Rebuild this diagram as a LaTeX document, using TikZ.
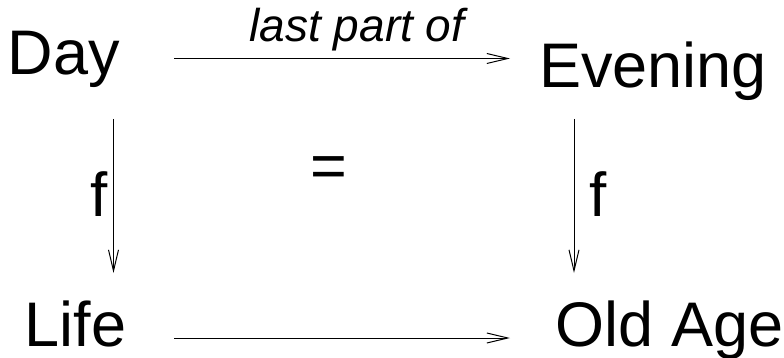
\documentclass[tikz,border=0pt]{standalone}
\usepackage{fontspec}
\setmainfont{Liberation Sans}
\usetikzlibrary{arrows.meta}
\begin{document}
\begin{tikzpicture}[x=1pt,y=-1pt,
  obj/.style={inner sep=0pt,anchor=base,font=\fontsize{63}{63}\selectfont},
  lbl/.style={inner sep=0pt,anchor=base,font=\fontsize{62}{62}\selectfont},
  itl/.style={inner sep=0pt,anchor=base,font=\fontsize{46}{46}\selectfont\itshape},
  arr/.style={line width=1pt,-{Straight Barb[length=21pt,width=10pt,line width=1pt]}}]
\useasboundingbox (0,0) rectangle (784,358);
\node[obj] (day) at (64,75) {Day};
\node[obj] (eve) at (653,88) {Evening};
\node[obj] (life) at (75.5,346) {Life};
\node[obj] (old) at (669.5,346) {Old Age};
\node[itl] (last) at (357,42) {last part of};
\node[lbl] (f1) at (99.5,217) {f};
\node[lbl] (f2) at (598.5,217) {f};
\node[inner sep=0pt,font=\fontsize{63}{63}\selectfont] (eq) at (329,172.5) {=};
\draw[arr] ([shift={(110,-16.5)}]day.base) -- ([shift={(-143,-29.5)}]eve.base);
\draw[arr] ([shift={(49.5,44)}]day.base) -- ([shift={(38,-73)}]life.base);
\draw[arr] ([shift={(-79,31)}]eve.base) -- ([shift={(-95.5,-73)}]old.base);
\draw[arr] ([shift={(98.5,-8)}]life.base) -- ([shift={(-159.5,-8)}]old.base);
\end{tikzpicture}
\end{document}
